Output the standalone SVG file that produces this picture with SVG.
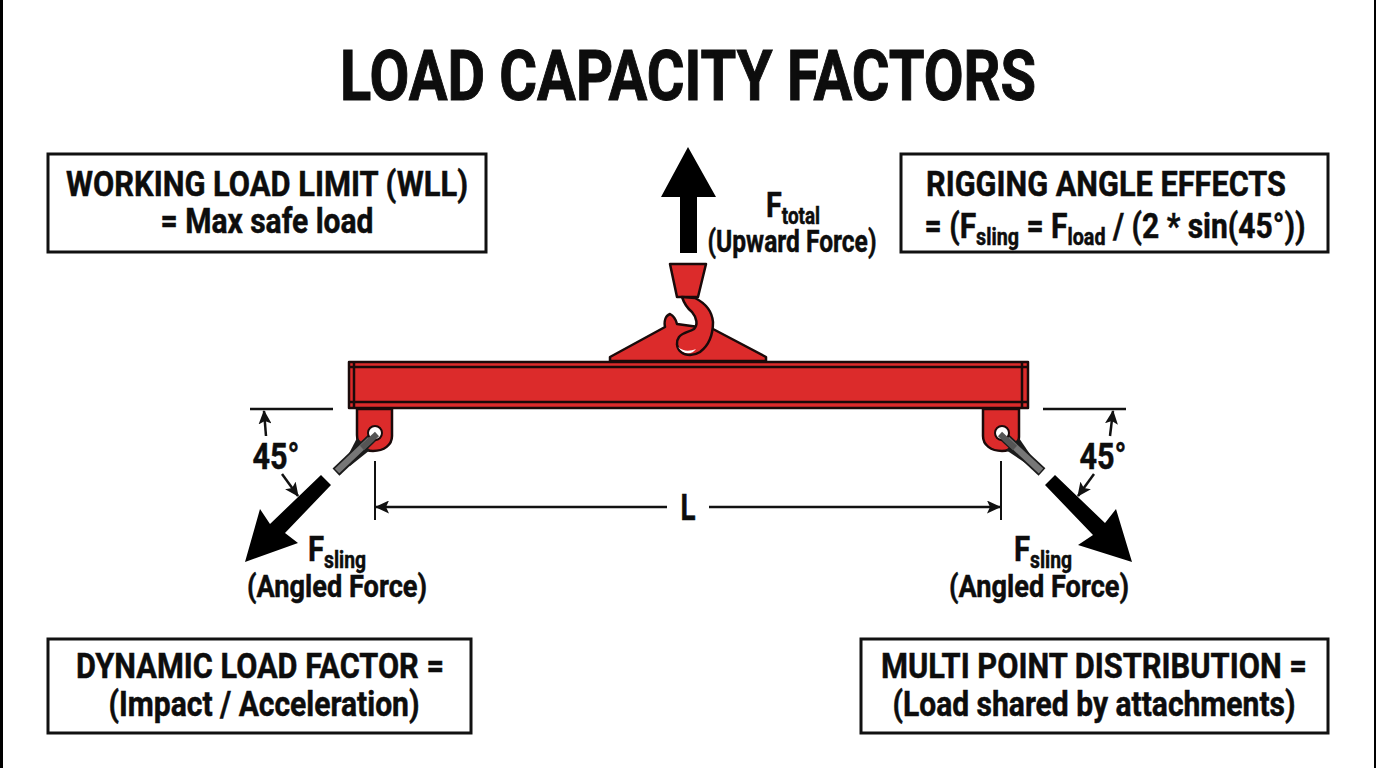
<svg xmlns="http://www.w3.org/2000/svg" width="1376" height="768" viewBox="0 0 1376 768">
<style>
text{font-family:Roboto,"Liberation Sans",sans-serif;font-weight:700;fill:#0d0d0d;text-anchor:middle;stroke:#0d0d0d;stroke-width:.5px}
.t{font-size:35px}
.m{font-size:32px}
.s{font-size:23px}
.n{font-size:37px}
.box{fill:#fff;stroke:#111;stroke-width:3}
.red{fill:#dc2b2b;stroke:#1a0a0a;stroke-width:2.5;stroke-linejoin:round}
.ln{fill:none;stroke:#111;stroke-width:2}
.lnb{fill:none;stroke:#111;stroke-width:2.5}
</style>
<defs>
<marker id="a" viewBox="0 0 14 13" refX="13" refY="6.5" markerWidth="14" markerHeight="13" markerUnits="userSpaceOnUse" orient="auto"><path d="M0 0L14 6.5L0 13L3 6.5Z" fill="#111"/></marker>
</defs>
<rect width="1376" height="768" fill="#fff"/>
<rect x="0" y="0" width="3" height="768" fill="#000"/>
<rect x="1374" y="0" width="2" height="768" fill="#000"/>
<text x="688" y="100" style="font-size:70px;stroke-width:1px" textLength="696" lengthAdjust="spacingAndGlyphs">LOAD CAPACITY FACTORS</text>

<g id="box-wll"><rect class="box" x="48" y="154" width="438" height="98"/>
<text class="t" x="267" y="196" textLength="402" lengthAdjust="spacingAndGlyphs">WORKING LOAD LIMIT (WLL)</text>
<text class="t" x="267" y="233" textLength="213" lengthAdjust="spacingAndGlyphs">= Max safe load</text></g>

<g id="box-rigging"><rect class="box" x="901" y="154" width="427" height="98"/>
<text class="t" x="1106" y="196" textLength="360" lengthAdjust="spacingAndGlyphs">RIGGING ANGLE EFFECTS</text>
<text class="t" x="1115" y="238" textLength="381" lengthAdjust="spacingAndGlyphs">= (F<tspan class="s" dy="7">sling</tspan><tspan dy="-7"> = F</tspan><tspan class="s" dy="7">load</tspan><tspan dy="-7"> / (2 * sin(45°))</tspan></text></g>

<g id="box-dynamic"><rect class="box" x="48" y="639" width="423" height="94"/>
<text class="t" x="260" y="678" textLength="368" lengthAdjust="spacingAndGlyphs">DYNAMIC LOAD FACTOR =</text>
<text class="t" x="264" y="716" textLength="311" lengthAdjust="spacingAndGlyphs">(Impact / Acceleration)</text></g>

<g id="box-multi"><rect class="box" x="861" y="639" width="467" height="94"/>
<text class="t" x="1094" y="678" textLength="426" lengthAdjust="spacingAndGlyphs">MULTI POINT DISTRIBUTION =</text>
<text class="t" x="1094" y="716" textLength="403" lengthAdjust="spacingAndGlyphs">(Load shared by attachments)</text></g>

<g id="beam">
<path class="red" d="M610 361V357L665 327C664 322 665 316 670 314C674 316 676 320 677 324L713 329L766 357V361Z"/>
<rect class="red" x="349" y="362" width="679" height="46"/>
<path d="M349 367H1028M349 402H1028M354 362V408M1022 362V408" fill="none" stroke="#1a0a0a" stroke-width="2.5"/>
</g>

<g id="hook">
<path class="red" d="M670 264H706L698 297H677Z"/>
<path class="red" d="M682 297L695 298C705 303 712 311 713 322C713 335 708 346 700 352C694 356 686 356 681 352C676 348 676 341 679 337C683 332 690 332 694 329C698 325 697 318 692 312C687 308 684 303 682 297Z"/>
<path d="M678 347C684 352 690 351 696 349C692 355 683 355 678 347Z" fill="#fff"/>
</g>

<g id="lug-left">
<path class="red" d="M357 409V435C357 445 364 451 373 451C384 451 392 445 392 436V409Z"/>
<path d="M357 438L342 467L350 466L370 450Z" fill="#1a1a1a"/>
<path d="M376 434L336 472" stroke="#1a1a1a" stroke-width="10" fill="none"/>
<path d="M376 434L337 471" stroke="#777" stroke-width="6.5" fill="none"/>
<circle cx="375" cy="433" r="7" fill="#fff" stroke="#1a0a0a" stroke-width="2"/>
<path d="M377 434L362 448" stroke="#555" stroke-width="6" fill="none"/>
</g>
<g id="lug-right">
<path class="red" d="M1019 409V437C1019 445 1011 451 1002 451C991 451 983 445 983 436V409Z"/>
<path d="M1019 438L1038 466L1030 466L1006 450Z" fill="#1a1a1a"/>
<path d="M1001 434L1042 472" stroke="#1a1a1a" stroke-width="10" fill="none"/>
<path d="M1001 434L1041 471" stroke="#777" stroke-width="6.5" fill="none"/>
<circle cx="1002" cy="433" r="7" fill="#fff" stroke="#1a0a0a" stroke-width="2"/>
<path d="M1000 434L1015 448" stroke="#555" stroke-width="6" fill="none"/>
</g>

<g id="connectors">
<path id="f-total" d="M688 147L716 197H697V253H680V197H661Z" fill="#000"/>
<path id="f-left" d="M321 475L331 485L285 533L298 543L245 562L260 509L270 524Z" fill="#000"/>
<path id="f-right" d="M1055 475L1045 485L1093 535L1078 545L1132 562L1116 509L1105 523Z" fill="#000"/>
<path class="lnb" d="M250 409H333M1043 409H1126"/>
<path class="lnb" d="M266 436L264 411" marker-end="url(#a)"/>
<path class="lnb" d="M1110 436L1113 411" marker-end="url(#a)"/>
<path class="lnb" d="M282 474L298 496" marker-end="url(#a)"/>
<path class="lnb" d="M1094 474L1078 496" marker-end="url(#a)"/>
<path class="ln" d="M375 461V520M1001 461V520"/>
<path class="lnb" d="M667 507H376" marker-end="url(#a)"/>
<path class="lnb" d="M709 507H1000" marker-end="url(#a)"/>
</g>

<g id="labels">
<text class="n" x="276" y="469" textLength="47" lengthAdjust="spacingAndGlyphs">45°</text>
<text class="n" x="1103" y="469" textLength="47" lengthAdjust="spacingAndGlyphs">45°</text>
<text class="n" x="688" y="520" textLength="15" lengthAdjust="spacingAndGlyphs">L</text>
<text class="t" x="793" y="217" textLength="54" lengthAdjust="spacingAndGlyphs">F<tspan class="s" dy="7">total</tspan></text>
<text class="m" x="792" y="252" textLength="169" lengthAdjust="spacingAndGlyphs">(Upward Force)</text>
<text class="t" x="337" y="561" textLength="58" lengthAdjust="spacingAndGlyphs">F<tspan class="s" dy="7">sling</tspan></text>
<text class="m" x="337" y="597" textLength="180" lengthAdjust="spacingAndGlyphs">(Angled Force)</text>
<text class="t" x="1043" y="561" textLength="58" lengthAdjust="spacingAndGlyphs">F<tspan class="s" dy="7">sling</tspan></text>
<text class="m" x="1039" y="597" textLength="180" lengthAdjust="spacingAndGlyphs">(Angled Force)</text>
</g>
</svg>
